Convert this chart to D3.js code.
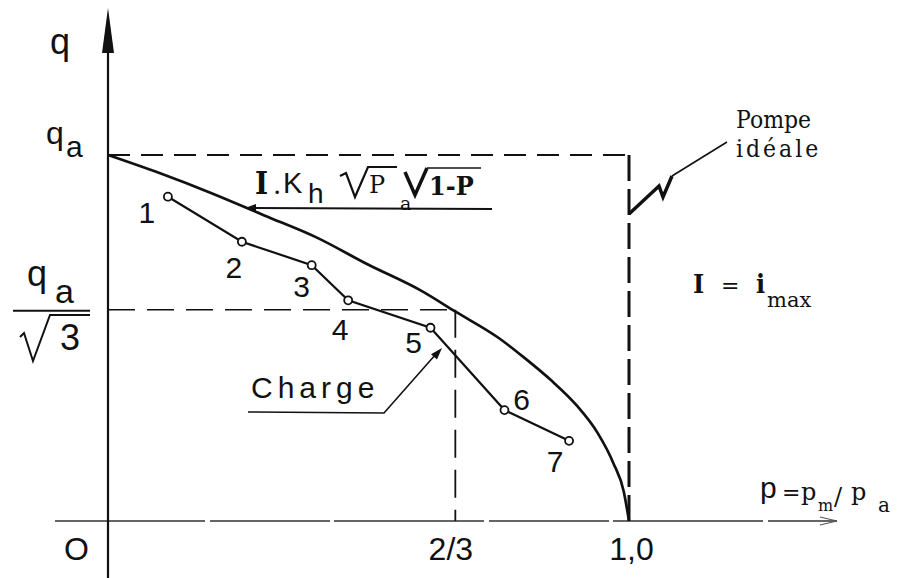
<!DOCTYPE html>
<html>
<head>
<meta charset="utf-8">
<script src="https://cdn.jsdelivr.net/npm/d3@7"></script>
<style>
  body { margin: 0; background: #fff; }
  svg { display: block; }
</style>
</head>
<body>
<div id="chart"></div>
<script>
  // Data

  // ideal pump curve q/qa against p = pm/pa
  var curveP = [0, 0.1, 0.2, 0.3, 0.4, 0.5, 0.6, 0.667, 0.75, 0.8, 0.85, 0.9, 0.94, 0.97, 0.99, 1.0];
  var curveQ = [1.0, 0.95, 0.895, 0.835, 0.775, 0.70, 0.63, 0.572, 0.5, 0.445, 0.385, 0.315, 0.24, 0.158, 0.08, 0.0];

  // measured points 1..7 (charge)
  var pointLabels = ["1", "2", "3", "4", "5", "6", "7"];
  var pointP = [0.115, 0.257, 0.391, 0.461, 0.619, 0.761, 0.885];
  var pointQ = [0.886, 0.763, 0.699, 0.603, 0.528, 0.303, 0.219];

  // ticks
  var xTicks = [0, 2/3, 1];
  var xTickLabels = ["O", "2/3", "1,0"];
  var qA = 1;
  var qRoot3 = 0.577;

  // label offsets for the numbered points (px)
  var labelOffsets = [[-21, 26], [-8, 36], [-10, 32], [-8, 40], [-17, 25], [17, 0], [-14, 31]];

  var width = 905, height = 578;
  var sans = "'Liberation Sans', Arial, sans-serif";
  var serif = "'DejaVu Serif', serif";
  var ink = "#111";

  var svg = d3.select("#chart").append("svg")
      .attr("width", width)
      .attr("height", height);

  var x = d3.scaleLinear().domain([0, 1]).range([108, 629]);
  var y = d3.scaleLinear().domain([0, 1]).range([521, 155]);

  // helper for text (optionally stretched vertically)
  function txt(px, py, str, size, family, sy) {
    return svg.append("text")
      .attr("transform", `translate(${px},${py}) scale(1,${sy || 1})`)
      .attr("font-family", family)
      .attr("font-size", size)
      .attr("fill", ink)
      .text(str);
  }

  function arrowHead(tx, ty, fx, fy, len, hw) {
    var a = Math.atan2(ty - fy, tx - fx);
    var bx = tx - len * Math.cos(a), by = ty - len * Math.sin(a);
    var nx = -Math.sin(a) * hw, ny = Math.cos(a) * hw;
    svg.append("path")
      .attr("d", `M${tx},${ty}L${bx + nx},${by + ny}L${bx - nx},${by - ny}Z`)
      .attr("fill", ink);
  }

  // Axes lines

  svg.append("line")
    .attr("x1", 55).attr("x2", 837)
    .attr("y1", y(0)).attr("y2", y(0))
    .attr("stroke", "#333").attr("stroke-width", 1.4)
    .attr("stroke-dasharray", "150,5,120,4");
  svg.append("path")
    .attr("d", `M820,${y(0) - 4}L837,${y(0)}L820,${y(0) + 4}`)
    .attr("fill", "none").attr("stroke", "#555").attr("stroke-width", 1.2);

  svg.append("line")
    .attr("x1", x(0)).attr("x2", x(0))
    .attr("y1", 40).attr("y2", height)
    .attr("stroke", ink).attr("stroke-width", 2.2);
  svg.append("path")
    .attr("d", `M${x(0)},8L${x(0) - 6},53L${x(0) + 6},53Z`)
    .attr("fill", ink);

  // x tick labels via d3 axis
  var xAxis = svg.append("g")
    .attr("transform", `translate(0, ${y(0)})`)
    .call(d3.axisBottom(x).tickValues(xTicks)
      .tickFormat(function(d, i) { return xTickLabels[i]; })
      .tickSize(0).tickPadding(16));
  xAxis.select(".domain").remove();
  xAxis.selectAll("text")
    .attr("font-family", sans)
    .attr("font-size", 32)
    .attr("fill", ink)
    .attr("dx", function(d, i) { return [-32, -5, 2][i]; });

  // Dashed reference lines

  svg.append("line")
    .attr("x1", x(0)).attr("x2", x(1))
    .attr("y1", y(qA)).attr("y2", y(qA))
    .attr("stroke", ink).attr("stroke-width", 1.8)
    .attr("stroke-dasharray", "22,11");
  svg.append("line")
    .attr("x1", x(1)).attr("x2", x(1))
    .attr("y1", y(qA)).attr("y2", y(0))
    .attr("stroke", ink).attr("stroke-width", 3)
    .attr("stroke-dasharray", "26,8");
  svg.append("line")
    .attr("x1", x(0)).attr("x2", x(2/3))
    .attr("y1", y(qRoot3)).attr("y2", y(qRoot3))
    .attr("stroke", ink).attr("stroke-width", 1.6)
    .attr("stroke-dasharray", "27,12");
  svg.append("line")
    .attr("x1", x(2/3)).attr("x2", x(2/3))
    .attr("y1", y(qRoot3)).attr("y2", y(0))
    .attr("stroke", ink).attr("stroke-width", 1.8)
    .attr("stroke-dasharray", "28,12");

  // Ideal curve

  var curveData = curveP.map(function(p, i) { return {p: p, q: curveQ[i]}; });
  svg.append("path")
    .datum(curveData)
    .attr("d", d3.line().x(d => x(d.p)).y(d => y(d.q)).curve(d3.curveMonotoneX))
    .attr("fill", "none").attr("stroke", ink).attr("stroke-width", 2.7);

  // Measured points

  var pts = pointP.map(function(p, i) { return {p: p, q: pointQ[i], label: pointLabels[i], off: labelOffsets[i]}; });
  svg.append("path")
    .datum(pts)
    .attr("d", d3.line().x(d => x(d.p)).y(d => y(d.q)))
    .attr("fill", "none").attr("stroke", ink).attr("stroke-width", 2.2);

  svg.selectAll(".pt")
    .data(pts)
    .enter().append("circle")
    .attr("class", "pt")
    .attr("cx", d => x(d.p)).attr("cy", d => y(d.q))
    .attr("r", 4)
    .attr("fill", "#fff").attr("stroke", ink).attr("stroke-width", 1.8);

  svg.selectAll(".ptlabel")
    .data(pts)
    .enter().append("text")
    .attr("class", "ptlabel")
    .attr("x", d => x(d.p) + d.off[0])
    .attr("y", d => y(d.q) + d.off[1])
    .attr("text-anchor", "middle")
    .attr("font-family", sans)
    .attr("font-size", 30)
    .attr("fill", ink)
    .text(d => d.label);

  // Y labels

  txt(50, 54, "q", 36, sans);
  txt(46, 144, "q", 32, sans);
  txt(66, 157, "a", 30, sans);

  txt(27, 286, "q", 36, sans);
  txt(55, 303, "a", 34, sans);
  svg.append("line")
    .attr("x1", 13).attr("x2", 90).attr("y1", y(qRoot3) + 1).attr("y2", y(qRoot3) + 1)
    .attr("stroke", ink).attr("stroke-width", 2);
  svg.append("path")
    .attr("d", "M20,337L24,333L33,361L50,315L90,315")
    .attr("fill", "none").attr("stroke", ink).attr("stroke-width", 2);
  txt(60, 350, "3", 36, sans);

  // Formula label  I.Kh √pa √1-P

  txt(255, 194, "I", 28, serif, 1.1).attr("font-weight", "bold");
  txt(273, 194, ".", 26, serif);
  txt(283, 193, "K", 29, sans);
  txt(308, 203, "h", 28, sans);
  svg.append("path")
    .attr("d", "M340,176L346,173L355,197L368,167L397,167")
    .attr("fill", "none").attr("stroke", ink).attr("stroke-width", 2.2);
  txt(369, 193, "P", 24, serif);
  txt(400, 210, "a", 19, serif);
  svg.append("path")
    .attr("d", "M405,172L415,195L427,168")
    .attr("fill", "none").attr("stroke", ink).attr("stroke-width", 3.5);
  svg.append("line")
    .attr("x1", 427).attr("x2", 481).attr("y1", 168).attr("y2", 168)
    .attr("stroke", ink).attr("stroke-width", 1.5);
  txt(429, 195, "1-P", 24, serif, 1.1).attr("font-weight", "bold");
  svg.append("line")
    .attr("x1", 252).attr("x2", 492).attr("y1", 208).attr("y2", 209)
    .attr("stroke", ink).attr("stroke-width", 1.8);
  arrowHead(245, 208, 262, 208, 11, 4);

  // Charge label

  txt(251, 398, "Charge", 30, sans).attr("letter-spacing", 5);
  svg.append("path")
    .attr("d", "M248,412L384,413L436,354")
    .attr("fill", "none").attr("stroke", ink).attr("stroke-width", 1.6);
  arrowHead(442, 348, 384, 413, 12, 4);

  // Pompe ideale

  txt(736, 128, "Pompe", 22, serif, 1.1);
  txt(736, 157, "idéale", 22, serif, 1.1).attr("letter-spacing", 3);
  svg.append("path")
    .attr("d", "M727,142L672,176")
    .attr("fill", "none").attr("stroke", ink).attr("stroke-width", 1.6);
  svg.append("path")
    .attr("d", "M672,176L663,197L659,186L629,214")
    .attr("fill", "none").attr("stroke", ink).attr("stroke-width", 3.5)
    .attr("stroke-linejoin", "miter");

  // I = imax

  txt(693, 293, "I", 24, serif, 1.1).attr("font-weight", "bold");
  txt(721, 293, "=", 22, serif);
  txt(756, 293, "i", 24, serif, 1.1).attr("font-weight", "bold");
  txt(767, 307, "max", 21, serif);

  // p = pm/pa

  txt(760, 498, "p", 30, sans);
  txt(782, 500, "=", 22, serif);
  txt(801, 500, "p", 24, serif);
  txt(818, 511, "m", 16, serif);
  txt(834, 505, "/", 24, serif);
  txt(851, 500, "p", 24, serif);
  txt(878, 512, "a", 20, serif);
</script>
</body>
</html>
